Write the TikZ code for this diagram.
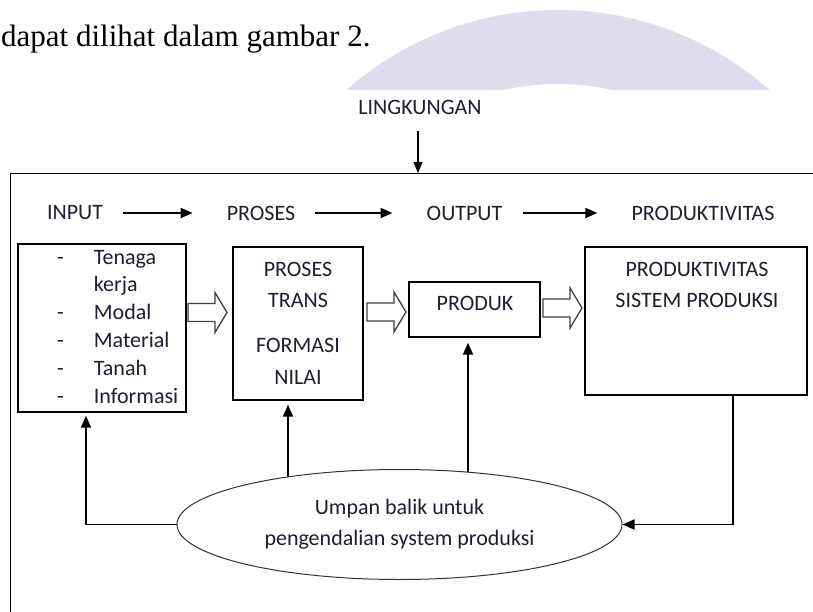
\documentclass[tikz,border=0pt]{standalone}
\usepackage{fontspec}
\setmainfont{Carlito}
\newfontfamily\serifbody{Liberation Serif}
\usetikzlibrary{arrows.meta,shapes.geometric,backgrounds}
\definecolor{lav}{RGB}{221,221,238}
\definecolor{ink}{RGB}{30,30,48}
\begin{document}
\begin{tikzpicture}[x=1pt,y=-1pt,
  box/.style={draw=black, line width=1.4pt, inner sep=0pt},
  lbl/.style={font=\fontsize{22}{27.8}\selectfont, text=ink, inner sep=0pt},
  hdr/.style={line width=1.9pt, shorten <=20pt, shorten >=34pt, -{Triangle[length=12pt,width=10pt]}},
  fb/.style={line width=1.8pt, -{Triangle[length=12pt,width=10pt]}},
  hollow/.style={draw=black!75, line width=1.3pt, fill=white},
  hollowarr/.pic={\draw[hollow] (0,-9) -- (27,-9) -- (27,-20) -- (39,0) -- (27,20) -- (27,9) -- (0,9) -- cycle;},
]
\useasboundingbox (0,0) rectangle (813,612);
% watermark ring above the pasted figure
\begin{scope}
  \clip (0,0) rectangle (813,90);
  \fill[lav, even odd rule] (558,330) circle[radius=320] (558,330) circle[radius=246];
\end{scope}
% paragraph text
\node[font=\serifbody\fontsize{31}{37}\selectfont, anchor=base west, inner sep=0pt] (para) at (1,47) {dapat dilihat dalam gambar 2.};
% environment
\node[lbl] (env) at (420,107) {LINGKUNGAN};
\node[box, anchor=north west, minimum width=830pt, minimum height=470pt] (sys) at (10,173) {};
\draw[line width=1.5pt, shorten <=17pt, -{Triangle[length=11pt,width=9pt]}] ([xshift=-2pt]env.south) -- ([xshift=-2pt]env.south |- sys.north);
% header row
\node[lbl] (hin) at (75,213) {INPUT};
\node[lbl] (hpr) at (261,213) {PROSES};
\node[lbl] (hout) at (464.5,213) {OUTPUT};
\node[lbl] (hprod) at (703,213) {PRODUKTIVITAS};
\draw[hdr] (hin.east) -- (hpr.west);
\draw[hdr] (hpr.east) -- (hout.west);
\draw[hdr] (hout.east) -- (hprod.west);
% boxes
\node[box, minimum width=168pt, minimum height=168pt] (inbox) at (102,328) {};
\node[box, minimum width=130pt, minimum height=153pt] (prbox) at (298,323.5) {};
\node[box, minimum width=131pt, minimum height=55pt] (pdbox) at (474.5,309.5) {};
\node[box, minimum width=222pt, minimum height=148pt] (ptbox) at (696,321) {};
% box texts
\node[lbl, anchor=west] (inlist) at (57,328) {\fontsize{22}{27.8}\selectfont
  \begin{tabular}{@{}c@{\hspace{30pt}}l@{}}
  - & Tenaga\\
    & kerja\\
  - & Modal\\
  - & Material\\
  - & Tanah\\
  - & Informasi
  \end{tabular}};
\node[lbl, align=center, font=\fontsize{22}{31.5}\selectfont] (prtext) at (298,323) {PROSES\\TRANS\\[13.5pt]FORMASI\\NILAI};
\node[lbl] (pdtext) at (475,303) {PRODUK};
\node[lbl, align=center, font=\fontsize{22}{31}\selectfont] (pttext) at (697,284.5) {PRODUKTIVITAS\\SISTEM PRODUKSI};
% hollow arrows
\pic at (188,312.5) {hollowarr};
\pic at (367,312) {hollowarr};
\pic at (543,308) {hollowarr};
% feedback ellipse
\node[ellipse, draw=black!80, line width=1pt, fill=white, minimum width=445pt, minimum height=110pt, inner sep=0pt,
      align=center, font=\fontsize{22}{31}\selectfont, text=ink] (ell) at (399.5,524.5) {Umpan balik untuk\\pengendalian system produksi};
% feedback connectors
\draw[fb] (ell.west) -| ([xshift=-16pt,yshift=-3pt]inbox.south);
\draw[fb] ([xshift=37pt]ptbox.south) |- (ell.east);
\begin{pgfonlayer}{background}
\draw[fb] ([xshift=-10pt]prbox.south |- ell.center) -- ([xshift=-10pt,yshift=-4pt]prbox.south);
\draw[fb] ([xshift=-6.5pt]pdbox.south |- ell.center) -- ([xshift=-6.5pt,yshift=-5pt]pdbox.south);
\end{pgfonlayer}
\end{tikzpicture}
\end{document}
